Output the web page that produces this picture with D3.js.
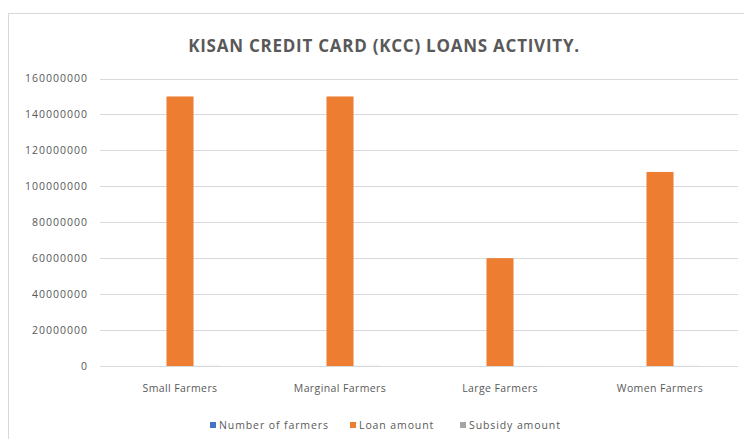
<!DOCTYPE html>
<html>
<head>
<meta charset="utf-8">
<script src="https://cdn.jsdelivr.net/npm/d3@7"></script>
<style>
  html, body { margin: 0; padding: 0; background: #fff; }
  svg { display: block; font-family: "Open Sans", sans-serif; }
</style>
</head>
<body>
<svg id="chart" width="744" height="439"></svg>
<script>
// Farmer categories on the x axis
const categories = ["Small Farmers", "Marginal Farmers", "Large Farmers", "Women Farmers"];
// Series shown side by side in each group
const seriesNames = ["Number of farmers", "Loan amount", "Subsidy amount"];
const numberOfFarmers = [3000, 3000, 1200, 2200];
const loanAmount = [150000000, 150000000, 60000000, 108000000];
const subsidyAmount = [60000, 60000, 24000, 44000];
const yTicks = [0, 20000000, 40000000, 60000000, 80000000, 100000000, 120000000, 140000000, 160000000];
const seriesColors = ["#4472c4", "#ed7d31", "#a5a5a5"];

const seriesValues = [numberOfFarmers, loanAmount, subsidyAmount];

const svg = d3.select("#chart");
const margin = { left: 100, right: 4, top: 78.5, bottom: 73 };
const W = 744, H = 439;
const labelColor = "#595959";

// Chart area frame
svg.append("rect")
  .attr("x", 8.5).attr("y", 13.5)
  .attr("width", W - 8).attr("height", H - 10)
  .attr("fill", "#fff").attr("stroke", "#d9d9d9");

// Title
svg.append("text")
  .attr("x", 384).attr("y", 52)
  .attr("text-anchor", "middle")
  .attr("font-size", 17).attr("font-weight", "bold")
  .attr("letter-spacing", "0.75")
  .attr("fill", labelColor)
  .text("KISAN CREDIT CARD (KCC) LOANS ACTIVITY.");

const x0 = d3.scaleBand().domain(categories)
  .range([margin.left, W - margin.right]).paddingInner(0).paddingOuter(0);
const x1 = d3.scaleBand().domain(seriesNames)
  .range([0, x0.bandwidth()]).paddingInner(0).paddingOuter(1.46);
const y = d3.scaleLinear().domain([0, 160000000]).range([H - margin.bottom, margin.top]);

// Horizontal gridlines
svg.append("g")
  .selectAll("line").data(yTicks).join("line")
  .attr("x1", margin.left).attr("x2", W - 6)
  .attr("y1", d => Math.round(y(d)) + 0.5).attr("y2", d => Math.round(y(d)) + 0.5)
  .attr("stroke", "#d9d9d9").attr("stroke-width", 1);

// Y axis labels
const yAxis = d3.axisLeft(y).tickValues(yTicks).tickSize(0).tickPadding(0)
  .tickFormat(d3.format("d"));
const gy = svg.append("g").attr("transform", `translate(${88},0)`).call(yAxis);
gy.select(".domain").remove();
gy.selectAll("text").attr("font-size", 10.5).attr("fill", labelColor)
  .attr("letter-spacing", "1").attr("font-family", "'Open Sans', sans-serif");

// Bars
const groups = svg.append("g").selectAll("g").data(categories).join("g")
  .attr("transform", d => `translate(${x0(d)},0)`);
groups.selectAll("rect")
  .data((d, i) => seriesNames.map((s, k) => ({ s, k, v: seriesValues[k][i] })))
  .join("rect")
  .attr("x", d => x1(d.s))
  .attr("width", x1.bandwidth())
  .attr("y", d => y(d.v))
  .attr("height", d => y(0) - y(d.v))
  .attr("fill", d => seriesColors[d.k]);

// X axis labels
const xAxis = d3.axisBottom(x0).tickSize(0).tickPadding(0);
const gx = svg.append("g").attr("transform", `translate(0,${392})`).call(xAxis);
gx.select(".domain").remove();
gx.selectAll("text").attr("font-size", 10.5).attr("fill", labelColor)
  .attr("dy", 0).attr("letter-spacing", "0.4")
  .attr("font-family", "'Open Sans', sans-serif");

// Legend
const legendX = [210, 350, 460];
const legend = svg.append("g").selectAll("g").data(seriesNames).join("g")
  .attr("transform", (d, i) => `translate(${legendX[i]},${429})`);
legend.append("rect")
  .attr("x", 0).attr("y", -7).attr("width", 6).attr("height", 6)
  .attr("fill", (d, i) => seriesColors[i]);
legend.append("text")
  .attr("x", 9).attr("y", 0)
  .attr("font-size", 10.5).attr("fill", labelColor)
  .attr("letter-spacing", "0.9")
  .text(d => d);
</script>
</body>
</html>
